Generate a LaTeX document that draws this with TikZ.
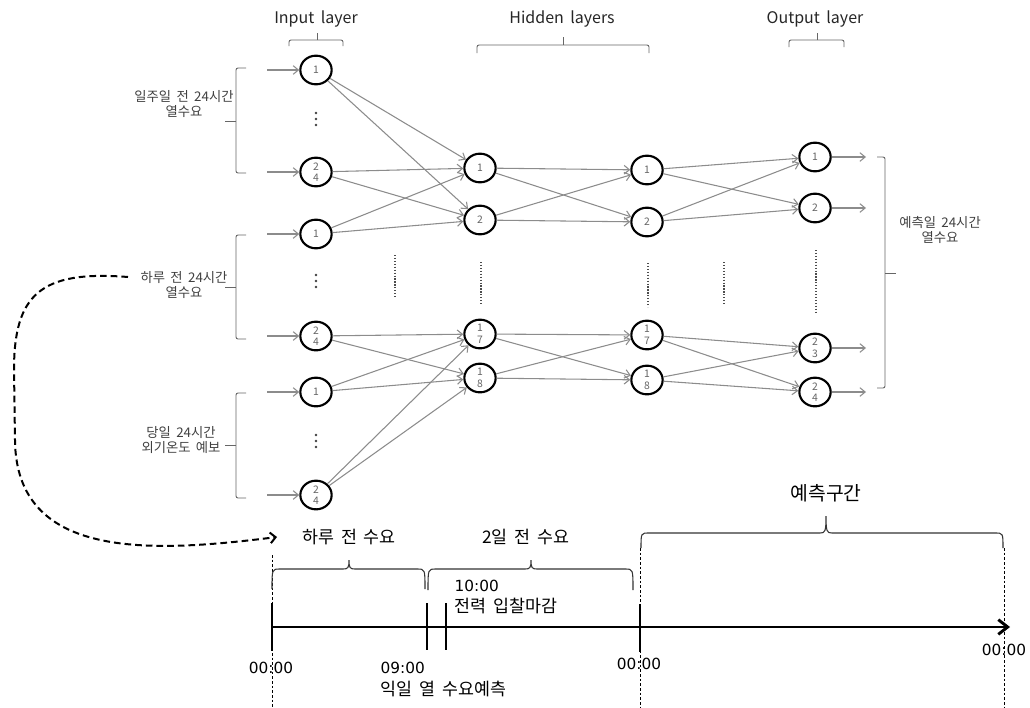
\documentclass[tikz,border=0pt]{standalone}
\usepackage{fontspec}
\setmainfont{Noto Sans CJK KR}[WordSpace=1.8]
\newfontfamily\clockfont{DejaVu Sans}
\usetikzlibrary{arrows.meta,shapes.geometric}

% curly brace over a time span: x1, x2, bar y, end y, tip x, tip y
\newcommand{\spanbrace}[6]{%
  \draw[spanbr] (#1,#4) .. controls (#1,#3) and (#1,#3) .. (#1+8,#3) -- (#5-6,#3)
    .. controls (#5-1,#3) and (#5,#3-1) .. (#5,#6)
    .. controls (#5,#3-1) and (#5+1,#3) .. (#5+6,#3) -- (#2-8,#3)
    .. controls (#2,#3) and (#2,#3) .. (#2,#4);}

\begin{document}
\begin{tikzpicture}[x=0.75pt,y=-0.75pt,
  neuron/.style={ellipse, draw=black, line width=1.6pt, fill=white,
    minimum width=23.5pt, minimum height=21.5pt, inner sep=0pt, align=center,
    font=\fontsize{7.8}{8.6}\selectfont, text=black!60},
  link/.style={draw=black!45, line width=0.8pt, -{Straight Barb[length=4pt,width=6.5pt]}},
  grp/.style={draw=black!60, line width=0.7pt, rounded corners=1.5pt},
  spanbr/.style={draw=black!80, line width=0.8pt},
  side/.style={align=center, text=black!75, font=\fontsize{10}{10.8}\selectfont},
  title/.style={text=black!85, font=\fontsize{12}{14}\selectfont},
  tl/.style={text=black, font=\fontsize{13}{15}\selectfont},
  clock/.style={text=black, font=\clockfont\fontsize{11.5}{14}\selectfont},
  tick/.style={line width=2.2pt},
  guide/.style={line width=0.6pt, dash pattern=on 2pt off 1.5pt},
  dotcol/.style={line width=1.4pt, draw=black!70, dash pattern=on 0.9pt off 1.3pt},
]
\useasboundingbox (0,0) rectangle (1030,707);

% ---------------- neurons ----------------
\node[neuron] (i1) at (316,70)  {1};
\node[neuron] (i2) at (316,172) {2\\4};
\node[neuron] (i3) at (316,234) {1};
\node[neuron] (i4) at (316,336) {2\\4};
\node[neuron] (i5) at (316,392) {1};
\node[neuron] (i6) at (316,495) {2\\4};

\node[neuron] (ha) at (480,168) {1};
\node[neuron] (hb) at (480,220) {2};
\node[neuron] (hc) at (480,334) {1\\7};
\node[neuron] (hd) at (480,378) {1\\8};

\node[neuron] (ga) at (647,170) {1};
\node[neuron] (gb) at (647,222) {2};
\node[neuron] (gc) at (647,335) {1\\7};
\node[neuron] (gd) at (647,380) {1\\8};

\node[neuron] (oa) at (815,157) {1};
\node[neuron] (ob) at (815,208) {2};
\node[neuron] (oc) at (815,348) {2\\3};
\node[neuron] (od) at (815,392) {2\\4};

% ---------------- inputs and outputs ----------------
\foreach \n/\y in {1/70,2/172,3/234,4/336,5/392,6/495}{
  \coordinate (s\n) at (267,\y);
  \draw[link] (s\n) -- (i\n);
}
\foreach \n/\y in {a/157,b/208,c/348,d/392}{
  \coordinate (e\n) at (866,\y);
  \draw[link] (o\n) -- (e\n);
}

% ---------------- weights ----------------
\foreach \s in {i1,i2,i3}{ \draw[link] (\s) -- (ha); \draw[link] (\s) -- (hb); }
\foreach \s in {i4,i5,i6}{ \draw[link] (\s) -- (hc); \draw[link] (\s) -- (hd); }
\foreach \s in {ha,hb}{ \draw[link] (\s) -- (ga); \draw[link] (\s) -- (gb); }
\foreach \s in {hc,hd}{ \draw[link] (\s) -- (gc); \draw[link] (\s) -- (gd); }
\foreach \s in {ga,gb}{ \draw[link] (\s) -- (oa); \draw[link] (\s) -- (ob); }
\foreach \s in {gc,gd}{ \draw[link] (\s) -- (oc); \draw[link] (\s) -- (od); }

% ---------------- ellipsis marks ----------------
\foreach \y in {113,275,435}{
  \foreach \k in {0,6,12} \fill[black!75] (316,\y+\k) circle (1.3);
}
\draw[dotcol] (395,255) -- (395,297);
\draw[dotcol] (481,262) -- (481,305);
\draw[dotcol] (648,263) -- (648,307);
\draw[dotcol] (724,262) -- (724,304);
\draw[dotcol] (816,250) -- (816,314);

% ---------------- layer titles ----------------
\node[title] (tin)  at (316,19) {Input layer};
\node[title] (thid) at (562,19) {Hidden layers};
\node[title] (tout) at (815,19) {Output layer};
\draw[grp] (289,46) -- (289,40) -- (343,40) -- (343,46);
\draw[grp] (317,40) -- (317,33);
\draw[grp] (477,53) -- (477,45) -- (649,45) -- (649,53);
\draw[grp] (563,45) -- (563,37);
\draw[grp] (789,47) -- (789,40) -- (844,40) -- (844,47);
\draw[grp] (817,40) -- (817,33);

% ---------------- input groups ----------------
\draw[grp] (246,68) -- (236,68) -- (236,173) -- (246,173);
\draw[grp] (236,121) -- (225,121);
\draw[grp] (246,235) -- (236,235) -- (236,339) -- (246,339);
\draw[grp] (236,287) -- (225,287);
\draw[grp] (246,393) -- (236,393) -- (236,498) -- (246,498);
\draw[grp] (236,445) -- (225,445);
\node[side] (lw) at (184,104) {일주일 전 24시간\\열수요};
\node[side] (ld) at (184,285) {하루 전 24시간\\열수요};
\node[side] (lt) at (181,440) {당일 24시간\\외기온도 예보};

% ---------------- output group ----------------
\draw[grp] (877,157) -- (885,157) -- (885,388) -- (877,388);
\draw[grp] (885,273) -- (896,273);
\node[side] (lo) at (940,230) {예측일 24시간\\열수요};

% ---------------- time line ----------------
\coordinate (t0) at (271,627);
\coordinate (tend) at (1010,627);
\draw[line width=2.2pt, -{Straight Barb[length=7pt,width=11pt]}] (t0) -- (tend);
\draw[tick] (272,603) -- (272,651);
\draw[tick] (427,603) -- (427,650);
\draw[tick] (446,603) -- (446,650);
\draw[tick] (640,604) -- (640,652);
\draw[guide] (272,555) -- (272,707);
\draw[guide] (640,548) -- (640,707);
\draw[guide] (1004,548) -- (1004,707);

\spanbrace{272}{425}{569}{589}{349}{560}
\spanbrace{428}{633}{569}{590}{531}{560}
\spanbrace{641}{1003}{533}{548}{826}{516}
\node[tl] (bd1) at (349,537) {하루 전 수요};
\node[tl] (bd2) at (526,537) {2일 전 수요};
\node[tl, font=\fontsize{14.5}{16}\selectfont] (bpr) at (826,493) {예측구간};

\node[clock, anchor=west] (c10) at (450,586) {10:00};
\node[tl, anchor=west] (cbid) at (450,606) {전력 입찰마감};
\node[clock] (z0) at (271,668) {00:00};
\node[clock, anchor=west] (c09) at (376,668) {09:00};
\node[tl, anchor=west] (cfc) at (376,689) {익일 열 수요예측};
\node[clock] (z1) at (639,664) {00:00};
\node[clock] (z2) at (1004,650) {00:00};

% ---------------- link from the previous-day inputs to the time line ----------------
\coordinate (lk0) at (128,277);
\coordinate (lk1) at (277,537);
\draw[line width=1.5pt, dash pattern=on 5pt off 3pt, -{Straight Barb[length=4pt,width=8pt]}]
  (lk0) .. controls (40,270) and (14,295) .. (14,370) -- (15,440)
  .. controls (16,560) and (150,553) .. (lk1);
\end{tikzpicture}
\end{document}
